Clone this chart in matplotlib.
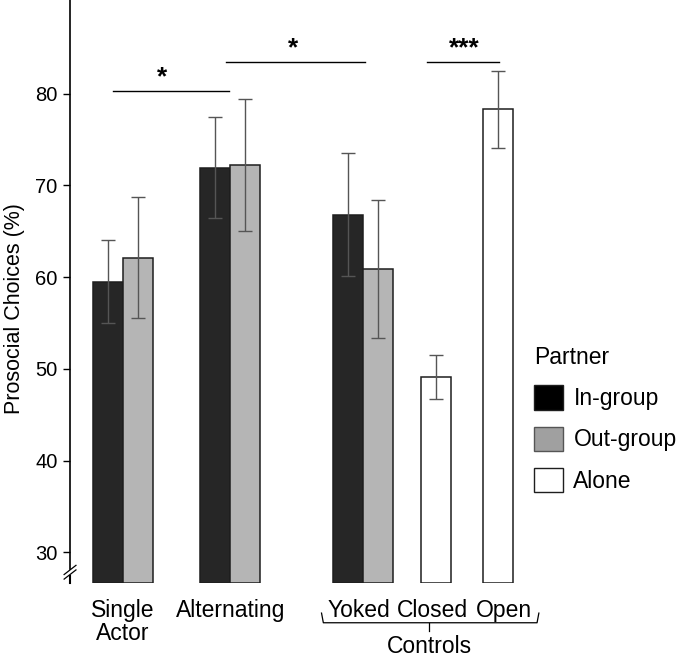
import matplotlib.pyplot as plt
import matplotlib.transforms as mtransforms
from matplotlib.patches import Patch

plt.rcParams['font.family'] = ['Liberation Sans', 'DejaVu Sans']

# data
conditions = ['Single Actor', 'Alternating', 'Yoked', 'Closed', 'Open']
ingroup_conds = ['Single Actor', 'Alternating', 'Yoked']
ingroup_mean = [59.5, 71.9, 66.8]
ingroup_err = [4.5, 5.5, 6.7]
outgroup_mean = [62.1, 72.2, 60.9]
outgroup_err = [6.6, 7.2, 7.5]
alone_conds = ['Closed', 'Open']
alone_mean = [49.1, 78.3]
alone_err = [2.4, 4.2]
yticks = [30, 40, 50, 60, 70, 80]

# group centres on the x axis (bar width = 1)
centers = {'Single Actor': 0.0, 'Alternating': 3.55, 'Yoked': 7.95,
           'Closed': 10.35, 'Open': 12.42}
w = 1.0
ymin, ymax = 26.7, 90.2

fig = plt.figure(figsize=(6.8, 6.6), dpi=100)
ax = fig.add_axes([0.103, 0.117, 0.669, 0.883])

edge = '#1e1e1e'
ekw = dict(ecolor='#555555', elinewidth=1, capsize=5, capthick=1)

x_in = [centers[c] - w / 2 for c in ingroup_conds]
x_out = [centers[c] + w / 2 for c in ingroup_conds]
x_al = [centers[c] for c in alone_conds]
base = ymin
ax.bar(x_in, [m - base for m in ingroup_mean], w, bottom=base, color='#262626',
       edgecolor=edge, linewidth=1.1, yerr=ingroup_err, error_kw=ekw, zorder=2)
ax.bar(x_out, [m - base for m in outgroup_mean], w, bottom=base, color='#b5b5b5',
       edgecolor=edge, linewidth=1.1, yerr=outgroup_err, error_kw=ekw, zorder=2)
ax.bar(x_al, [m - base for m in alone_mean], w, bottom=base, color='white',
       edgecolor=edge, linewidth=1.1, yerr=alone_err, error_kw=ekw, zorder=2)

ax.set_xlim(-1.75, 13.3)
ax.set_ylim(ymin, ymax)
ax.set_yticks(yticks)
ax.tick_params(axis='y', labelsize=14.5, length=5, width=1, pad=4)
ax.tick_params(axis='x', bottom=False, labelbottom=False)
for s in ['top', 'right', 'bottom']:
    ax.spines[s].set_visible(False)
ax.spines['left'].set_bounds(28.2, ymax)
ax.spines['left'].set_linewidth(1.2)
ax.set_ylabel('Prosocial Choices (%)', fontsize=15.5)
ax.yaxis.set_label_coords(-0.1, 0.47)

# axis break
bt = ax.get_yaxis_transform()
ax.plot([0, 0], [ymin, 27.4], color='black', lw=1.5, transform=bt, clip_on=False)
for yy in [27.6, 28.1]:
    ax.plot([-0.013, 0.013], [yy - 0.5, yy + 0.5], color='black', lw=0.9,
            transform=bt, clip_on=False)

# significance bars
sig = [(-0.33, 3.5, 80.3, 1.29, '*'), (3.4, 8.02, 83.4, 5.64, '*'),
       (10.07, 12.44, 83.4, 11.29, '***')]
for x0, x1, yy, xs, lab in sig:
    ax.plot([x0, x1], [yy, yy], color='black', lw=1, clip_on=False)
    ax.text(xs, yy + 0.2, lab, ha='center', va='bottom', fontsize=19,
            fontweight='bold')

# x labels
tr = mtransforms.blended_transform_factory(ax.transData, ax.transAxes)
lab_kw = dict(transform=tr, ha='center', va='top', fontsize=16.5)
ax.text(centers['Single Actor'], -0.028, 'Single\nActor', linespacing=1.0, **lab_kw)
ax.text(centers['Alternating'], -0.028, 'Alternating', **lab_kw)
ax.text(7.8, -0.028, 'Yoked', **lab_kw)
ax.text(10.23, -0.028, 'Closed', **lab_kw)
ax.text(12.6, -0.028, 'Open', **lab_kw)

# brace for controls
bx0, bx1, bxc = 6.57, 13.76, 10.13
yb0, yb1, yb2 = -0.052, -0.0686, -0.083
ax.plot([bx0, bx0 + 0.06, bx1 - 0.06, bx1], [yb0, yb1, yb1, yb0], color='black',
        lw=0.9, transform=tr, clip_on=False)
ax.plot([bxc, bxc], [yb1, yb2], color='black', lw=0.9, transform=tr, clip_on=False)
ax.text(bxc, -0.09, 'Controls', **lab_kw)

# legend
handles = [Patch(facecolor='black', edgecolor=edge, label='In-group'),
           Patch(facecolor='#a0a0a0', edgecolor='#555555', label='Out-group'),
           Patch(facecolor='white', edgecolor=edge, label='Alone')]
leg = fig.legend(handles=handles, title='Partner', loc='upper left',
                 bbox_to_anchor=(0.786, 0.476), frameon=False, fontsize=16.5,
                 title_fontsize=16.5, handlelength=1.25, handleheight=1.25,
                 handletextpad=0.45, labelspacing=0.72, borderaxespad=0,
                 borderpad=0)
leg._legend_box.align = 'left'

fig.savefig('out.png', dpi=100)
